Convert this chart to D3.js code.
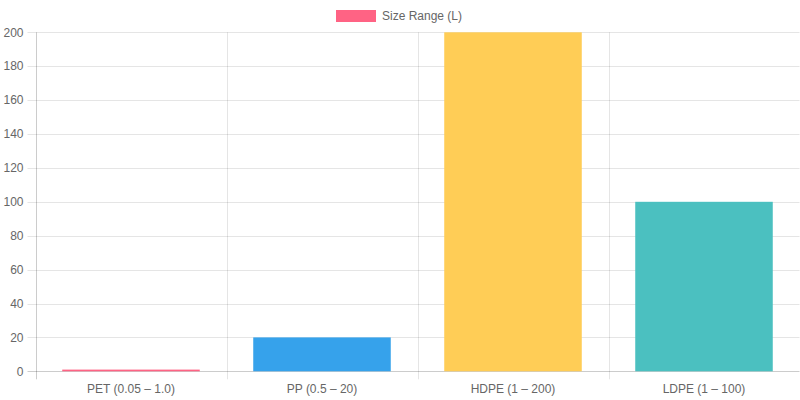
<!DOCTYPE html>
<html><head><meta charset="utf-8">
<script src="https://cdn.jsdelivr.net/npm/d3@7/dist/d3.min.js"></script>
<style>body{margin:0;background:#fff}svg{display:block;font-family:"Liberation Sans",Arial,sans-serif}</style>
</head><body><svg id="c" width="800" height="400"></svg>
<script>
const categories = ["PET (0.05 – 1.0)", "PP (0.5 – 20)", "HDPE (1 – 200)", "LDPE (1 – 100)"];
const values = [1, 20, 200, 100];
const colors = ["#ff6384", "#36a2eb", "#ffcd56", "#4bc0c0"];
const yTicks = [0, 20, 40, 60, 80, 100, 120, 140, 160, 180, 200];
const seriesName = "Size Range (L)";

const svg = d3.select("#c");
const pLeft = 35.5, pRight = 799.5, pTop = 32.3, pBottom = 371.3;
const x = d3.scaleBand().domain(categories).range([pLeft, pRight]).paddingInner(0).paddingOuter(0);
const y = d3.scaleLinear().domain([0, 200]).range([pBottom, pTop]);
const grid = "rgba(0,0,0,0.1)";

// horizontal grid
svg.append("g").selectAll("line").data(yTicks).join("line")
  .attr("x1", pLeft - 8).attr("x2", pRight)
  .attr("y1", d => Math.round(y(d)) + 0.5).attr("y2", d => Math.round(y(d)) + 0.5)
  .attr("stroke", d => d === 0 ? "rgba(0,0,0,0.2)" : grid);
// vertical grid
const bounds = categories.map(c => x(c)).concat([pRight]);
svg.append("g").selectAll("line").data(bounds).join("line")
  .attr("x1", d => Math.round(d) + 0.5).attr("x2", d => Math.round(d) + 0.5)
  .attr("y1", pTop).attr("y2", pBottom + 8)
  .attr("stroke", (d, i) => i === 0 ? "rgba(0,0,0,0.2)" : grid);

// y labels
svg.append("g").selectAll("text").data(yTicks).join("text")
  .attr("x", 23.5).attr("y", d => y(d)).attr("dy", "0.35em")
  .attr("text-anchor", "end").attr("font-size", 12).attr("fill", "#666").text(d => d);
// x labels
svg.append("g").selectAll("text").data(categories).join("text")
  .attr("x", d => x(d) + x.bandwidth() / 2).attr("y", 389).attr("dy", "0.35em")
  .attr("text-anchor", "middle").attr("font-size", 12).attr("fill", "#666").text(d => d);

// bars
const bw = x.bandwidth() * 0.72;
svg.append("g").selectAll("rect").data(values).join("rect")
  .attr("x", (d, i) => x(categories[i]) + (x.bandwidth() - bw) / 2)
  .attr("width", bw)
  .attr("y", d => y(d)).attr("height", d => y(0) - y(d))
  .attr("fill", (d, i) => colors[i]);

// legend
const lg = svg.append("g");
lg.append("rect").attr("x", 336).attr("y", 10).attr("width", 40).attr("height", 12).attr("fill", colors[0]);
lg.append("text").attr("x", 382).attr("y", 16).attr("dy", "0.35em").attr("font-size", 12).attr("fill", "#666").text(seriesName);
</script></body></html>
